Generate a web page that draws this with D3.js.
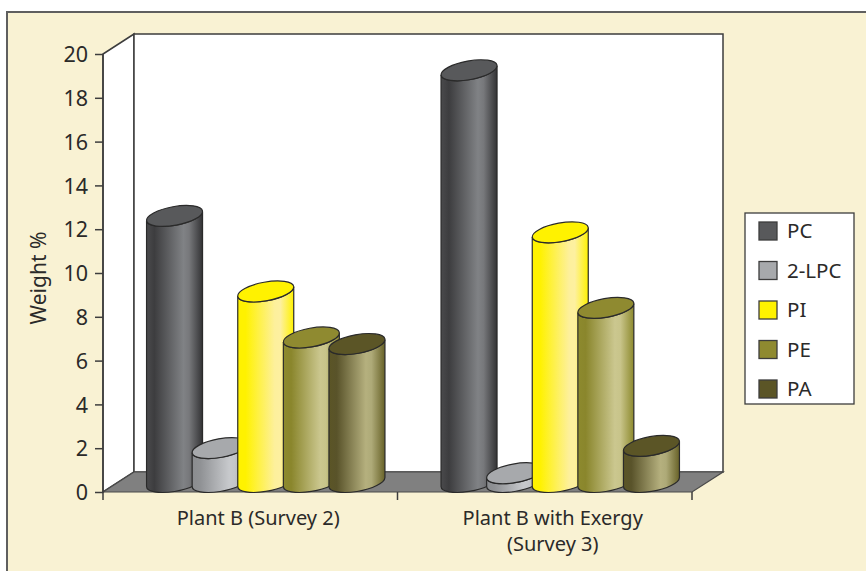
<!DOCTYPE html>
<html>
<head>
<meta charset="utf-8">
<style>
  html, body { margin: 0; padding: 0; background: #fff; }
  svg { display: block; }
  text { font-family: "Noto Sans", sans-serif; fill: #2b2a29; }
</style>
<script src="https://cdn.jsdelivr.net/npm/d3@7/dist/d3.min.js"></script>
</head>
<body>
<svg id="chart" width="866" height="571"></svg>
<script>
// Phospholipid composition, weight %
const plants = ["Plant B (Survey 2)", "Plant B with Exergy\n(Survey 3)"];
const lipids = ["PC", "2-LPC", "PI", "PE", "PA"];
const survey2 = [12.15, 1.55, 8.7, 6.6, 6.3];
const survey3 = [18.8, 0.4, 11.4, 7.95, 1.65];
const yTicks = d3.range(0, 21, 2);

const capColors = ["#58595b", "#a7a9ac", "#fff200", "#8f8a30", "#5b5526"];
const shades = [
  ["#4a4a4c", "#3d3d3f", "#808285", "#77787b", "#333335"],
  ["#8a8c8f", "#8f9194", "#c7c9cc", "#c4c6c9", "#9a9c9f"],
  ["#fff200", "#fff200", "#fdf09c", "#fdf0a0", "#fff200"],
  ["#8d8a2e", "#8a862c", "#cbc78f", "#c8c48a", "#8d8a2e"],
  ["#5b5526", "#59532a", "#b5b07e", "#aeaa78", "#686228"]
];

const svg = d3.select("#chart");
const defs = svg.append("defs");

// Oblique projection of the plot box
const depthX = 31, depthY = 20;
const x0 = d3.scaleBand().domain(plants).range([103, 692]);
const x1 = d3.scaleBand().domain(lipids).range([0, x0.bandwidth()]).paddingOuter(0.729).paddingInner(0);
const y = d3.scaleLinear().domain([0, 20]).range([492, 54]);

svg.append("rect").attr("x", 7).attr("y", 12).attr("width", 880).attr("height", 590)
  .attr("fill", "#f9f2d3").attr("stroke", "#5f5f5f").attr("stroke-width", 2);

// Walls and floor
svg.append("path")
  .attr("d", d3.line()([[103, y(0)], [134, y(0) - depthY], [134, y(20) - depthY], [103, y(20)]]) + "Z")
  .attr("fill", "#fff").attr("stroke", "#3d3d3d").attr("stroke-width", 1.5);
svg.append("rect").attr("x", 134).attr("y", y(20) - depthY).attr("width", 589).attr("height", y(0) - y(20))
  .attr("fill", "#fff").attr("stroke", "#3d3d3d").attr("stroke-width", 1.5);
svg.append("path")
  .attr("d", d3.line()([[103, y(0)], [134, y(0) - depthY], [723, y(0) - depthY], [692, y(0)]]) + "Z")
  .attr("fill", "#808080").attr("stroke", "#4a4a4a").attr("stroke-width", 1.2);

// Value axis
svg.append("line").attr("x1", 103).attr("x2", 103).attr("y1", y(0)).attr("y2", y(20))
  .attr("stroke", "#3d3d3d").attr("stroke-width", 1.5);
const yAxis = svg.append("g").attr("transform", "translate(103,0)")
  .call(d3.axisLeft(y).tickValues(yTicks).tickSize(8).tickPadding(7));
yAxis.select(".domain").remove();
yAxis.selectAll("line").attr("stroke", "#3d3d3d").attr("stroke-width", 1.5);
yAxis.selectAll("text").attr("font-size", 21.5).attr("dy", "0.36em").style("fill", "#2b2a29");

svg.append("text").attr("transform", "translate(46,278) rotate(-90)")
  .attr("text-anchor", "middle").attr("font-size", 21).text("Weight %");

// Category axis
svg.selectAll(".cat-tick").data([103, ...plants.map(p => x0(p) + x0.bandwidth())]).join("line")
  .attr("x1", d => d).attr("x2", d => d).attr("y1", y(0)).attr("y2", 500)
  .attr("stroke", "#3d3d3d").attr("stroke-width", 1.5);
plants.forEach(p => {
  p.split("\n").forEach((ln, i) => {
    svg.append("text").attr("x", x0(p) + x0.bandwidth() / 2 + 8).attr("y", 525 + i * 26)
      .attr("text-anchor", "middle").attr("font-size", 20).text(ln);
  });
});

// Gradients running across each cylinder
shades.forEach((s, i) => {
  const g = defs.append("linearGradient").attr("id", "cyl" + i);
  [0, 0.14, 0.66, 0.76, 1].forEach((o, k) => g.append("stop").attr("offset", o).attr("stop-color", s[k]));
});

// Tilted elliptical cross-section of a cylinder
const rA = 28.4, rB = 9.34, tilt = -10.25 * Math.PI / 180;
const t = Math.atan2(-rB * Math.sin(tilt), rA * Math.cos(tilt));
const edgeX = rA * Math.cos(t) * Math.cos(tilt) - rB * Math.sin(t) * Math.sin(tilt);
const edgeY = rA * Math.cos(t) * Math.sin(tilt) + rB * Math.sin(t) * Math.cos(tilt);
const deg = tilt * 180 / Math.PI;

function bodyPath(cx, top, base) {
  return `M${cx - edgeX},${top - edgeY}L${cx - edgeX},${base - edgeY}` +
    `A${rA},${rB} ${deg} 0 0 ${cx + edgeX},${base + edgeY}` +
    `L${cx + edgeX},${top + edgeY}A${rA},${rB} ${deg} 0 1 ${cx - edgeX},${top - edgeY}Z`;
}

const rows = [survey2, survey3];
plants.forEach((p, gi) => {
  rows[gi].forEach((v, i) => {
    const cx = x0(p) + x1(lipids[i]) + x1.bandwidth() / 2 + depthX / 2;
    const base = y(0) - depthY / 2;
    const top = base - (y(0) - y(v));
    svg.append("path").attr("d", bodyPath(cx, top, base))
      .attr("fill", `url(#cyl${i})`).attr("stroke", "#2a2a2a").attr("stroke-width", 1.2);
    svg.append("ellipse").attr("rx", rA).attr("ry", rB)
      .attr("transform", `translate(${cx},${top}) rotate(${deg})`)
      .attr("fill", capColors[i]).attr("stroke", "#2a2a2a").attr("stroke-width", 1.2);
  });
});

// Legend
const legendY = d3.scalePoint().domain(lipids).range([231, 389]);
svg.append("rect").attr("x", 745).attr("y", 213).attr("width", 109).attr("height", 191)
  .attr("fill", "#fff").attr("stroke", "#3d3d3d").attr("stroke-width", 1.3);
lipids.forEach((name, i) => {
  svg.append("rect").attr("x", 759).attr("y", legendY(name) - 9).attr("width", 18).attr("height", 18)
    .attr("fill", capColors[i]).attr("stroke", "#3d3d3d").attr("stroke-width", 1.3);
  svg.append("text").attr("x", 787).attr("y", legendY(name) + 7).attr("font-size", 20.5).text(name);
});
</script>
</body>
</html>
